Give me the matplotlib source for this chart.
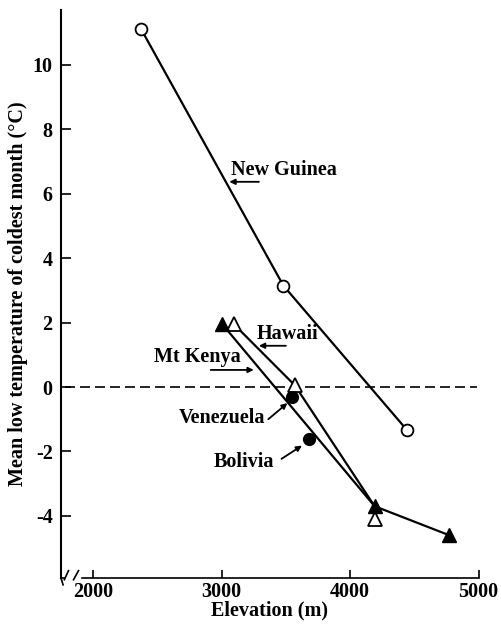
import numpy as np
import matplotlib
matplotlib.use("Agg")
import matplotlib.pyplot as plt

# values
ng_x = [2375, 3480, 4445]
ng_y = [11.1, 3.15, -1.35]
kenya_x = [3005, 4190, 4770]
kenya_y = [1.95, -3.7, -4.6]
hawaii_x = [3095, 3570, 4195]
hawaii_y = [1.95, 0.05, -4.1]
venez_x, venez_y = [3550], [-0.3]
boliv_x, boliv_y = [3680], [-1.6]

xticks = [2000, 3000, 4000, 5000]
yticks = [-4, -2, 0, 2, 4, 6, 8, 10]

# label text, text position, arrow tail, arrow head
labels = [
    ("New Guinea", (3075, 6.74), (3290, 6.37), (3060, 6.37)),
    ("Hawaii", (3272, 1.66), (3500, 1.28), (3290, 1.28)),
    ("Mt Kenya", (2474, 0.92), (2915, 0.53), (3250, 0.53)),
    ("Venezuela", (2663, -0.97), (3363, -1.0), (3512, -0.5)),
    ("Bolivia", (2935, -2.33), (3466, -2.23), (3625, -1.82)),
]

plt.rcParams['font.family'] = ['Liberation Serif', 'DejaVu Serif']
plt.rcParams['axes.unicode_minus'] = False

fig = plt.figure(figsize=(5.02, 6.32), dpi=100)
ax = fig.add_axes([0.1215, 0.0854, 0.832, 0.8986])
ax.set_xlim(1750, 5000)
ax.set_ylim(-5.93, 11.7)

ax.axhline(0, color='black', lw=1.2, ls=(0, (6, 3)), xmin=0.01, xmax=0.995)

ax.plot(ng_x, ng_y, color='black', lw=1.6, marker='o', ms=8.5,
        mfc='white', mec='black', mew=1.3, zorder=3)
ax.plot(hawaii_x[:2] + [kenya_x[1]], hawaii_y[:2] + [kenya_y[1]],
        color='black', lw=1.6, zorder=2)
ax.plot(kenya_x, kenya_y, color='black', lw=1.6, zorder=2)
ax.plot(hawaii_x, hawaii_y, ls='none', marker='^', ms=9.5,
        mfc='white', mec='black', mew=1.3, zorder=4)
ax.plot(kenya_x, kenya_y, ls='none', marker='^', ms=9.5,
        mfc='black', mec='black', zorder=5)
ax.plot(venez_x + boliv_x, venez_y + boliv_y, ls='none', marker='o', ms=8.5,
        mfc='black', mec='black', zorder=5)

for text, tpos, tail, head in labels:
    ax.text(tpos[0], tpos[1], text, fontsize=14.5, fontweight='bold',
            ha='left', va='center')
    ax.annotate('', xy=head, xytext=tail,
                arrowprops=dict(arrowstyle='-|>', lw=1.3, color='black',
                                mutation_scale=8, shrinkA=0, shrinkB=0))

ax.spines['top'].set_visible(False)
ax.spines['right'].set_visible(False)
ax.spines['left'].set_linewidth(1.5)
ax.spines['bottom'].set_linewidth(1.2)
ax.spines['bottom'].set_bounds(1915, 5000)

# axis break at the left of the x axis
kw = dict(color='black', lw=1.2, clip_on=False, transform=ax.transAxes)
ax.plot([0.0, 0.008], [0.0, 0.0], **kw)
ax.plot([0.008, 0.018], [-0.003, 0.013], **kw)
ax.plot([0.030, 0.042], [-0.003, 0.013], **kw)
ax.plot([0.0, 0.005], [0.0, -0.012], **kw)

ax.set_xticks(xticks)
ax.set_yticks(yticks)
ax.tick_params(axis='both', direction='in', labelsize=14.5, width=1.2)
ax.tick_params(axis='y', length=7, pad=6)
ax.tick_params(axis='x', length=6, pad=3)
for lab in ax.get_xticklabels() + ax.get_yticklabels():
    lab.set_fontweight('bold')

ax.set_xlabel("Elevation (m)", fontsize=14.5, fontweight='bold', labelpad=-1)
ax.set_ylabel("Mean low temperature of coldest month (°C)", fontsize=14.5,
              fontweight='bold', labelpad=3)

fig.savefig("out.png", dpi=100)
